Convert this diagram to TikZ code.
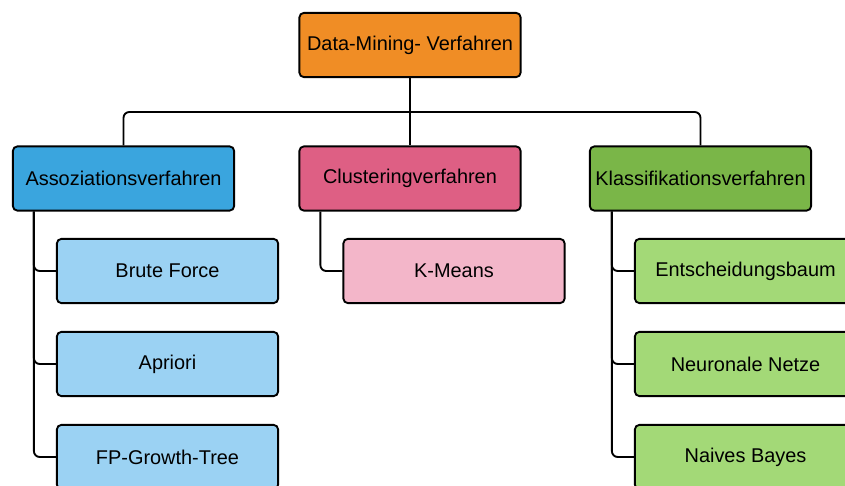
\documentclass[tikz,border=0pt]{standalone}
\usepackage{fontspec}
\setmainfont{Liberation Sans}
\usepackage{tikz}
\usetikzlibrary{calc}
\definecolor{rootc}{HTML}{F08D25}
\definecolor{assoc}{HTML}{3AA5DE}
\definecolor{clusc}{HTML}{DE5F84}
\definecolor{klasc}{HTML}{7AB648}
\definecolor{assol}{HTML}{9BD2F3}
\definecolor{clusl}{HTML}{F3B6C9}
\definecolor{klasl}{HTML}{A3D977}

\begin{document}
\begin{tikzpicture}[x=0.03cm, y=-0.03cm,
    box/.style={draw=black, line width=1.6pt, rounded corners=4pt,
      minimum width=6.64cm, minimum height=1.93cm, inner sep=0pt,
      font=\fontsize{17}{20}\selectfont},
    link/.style={draw=black, line width=1.6pt, rounded corners=5pt}]
      \clip (0,0) rectangle (845,486);

      \node [box, fill=rootc] (root)  at (410,45)  {Data-Mining- Verfahren};

      \node [box, fill=assoc] (asso)  at (123.5,178.5) {Assoziationsverfahren};
      \node [box, fill=clusc] (clus)  at (410,178.5) {Clusteringverfahren};
      \node [box, fill=klasc] (klas)  at (700.5,178.5) {Klassifikationsverfahren};

      \node [box, fill=assol] (brute) at (167.5,271) {Brute Force};
      \node [box, fill=assol] (apri)  at (167.5,364) {Apriori};
      \node [box, fill=assol] (fpgt)  at (167.5,457) {FP-Growth-Tree};

      \node [box, fill=clusl] (kmea)  at (454,271)   {K-Means};

      \node [box, fill=klasl] (ents)  at (745.5,271) {Entscheidungsbaum};
      \node [box, fill=klasl] (neur)  at (745.5,364) {Neuronale Netze};
      \node [box, fill=klasl] (naiv)  at (745.5,457) {Naives Bayes};

      % top level
      \coordinate (split) at (410,112);
      \draw [link] (root.south) -- (clus.north);
      \draw [link] (split) -| (asso.north);
      \draw [link] (split) -| (klas.north);

      % second level
      \draw [link] ($(asso.south west)+(22,0)$) |- (brute.west);
      \draw [link] ($(asso.south west)+(22,0)$) |- (apri.west);
      \draw [link] ($(asso.south west)+(22,0)$) |- (fpgt.west);
      \draw [link] ($(clus.south west)+(22,0)$) |- (kmea.west);
      \draw [link] ($(klas.south west)+(23,0)$) |- (ents.west);
      \draw [link] ($(klas.south west)+(23,0)$) |- (neur.west);
      \draw [link] ($(klas.south west)+(23,0)$) |- (naiv.west);
\end{tikzpicture}
\end{document}
